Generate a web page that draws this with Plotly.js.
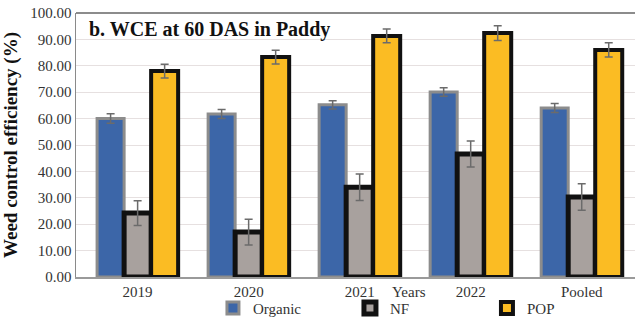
<!DOCTYPE html>
<html>
<head>
<meta charset="utf-8">
<script src="https://cdn.plot.ly/plotly-3.0.1.min.js"></script>
<style>html,body{margin:0;padding:0;background:#fff;}#chart{width:635px;height:318px;}</style>
</head>
<body>
<div id="chart"></div>
<script>
const categories = ["2019", "2020", "2021", "2022", "Pooled"];
const organic = [60.0, 61.7, 65.2, 70.1, 64.0];
const organicErr = [1.8, 1.7, 1.6, 1.6, 1.7];
const nf = [24.2, 17.0, 34.0, 46.6, 30.3];
const nfErr = [4.7, 4.9, 5.0, 4.9, 5.0];
const pop = [78.0, 83.3, 91.3, 92.4, 86.0];
const popErr = [2.6, 2.6, 2.6, 2.8, 2.7];
const yTicks = [0, 10, 20, 30, 40, 50, 60, 70, 80, 90, 100];

const serif = "Liberation Serif, Times New Roman, serif";
const errStyle = {type: "data", visible: true, color: "#6b6b6b", thickness: 1.5, width: 4};

const traces = [
  {type: "bar", name: "Organic", x: categories, y: organic,
   error_y: Object.assign({array: organicErr}, errStyle),
   marker: {color: "#3c66a8", line: {color: "#8c8c8c", width: 3}}},
  {type: "bar", name: "NF", x: categories, y: nf,
   error_y: Object.assign({array: nfErr}, errStyle),
   marker: {color: "#a8a19e", line: {color: "#111111", width: 5}}},
  {type: "bar", name: "POP", x: categories, y: pop,
   error_y: Object.assign({array: popErr}, errStyle),
   marker: {color: "#fbbc23", line: {color: "#111111", width: 4}}}
];

const layout = {
  width: 635, height: 318,
  margin: {l: 76, r: 0, t: 13, b: 41, autoexpand: false},
  paper_bgcolor: "#ffffff", plot_bgcolor: "#ffffff",
  barmode: "group", bargap: 0.27, bargroupgap: 0,
  font: {family: serif, color: "#333333"},
  showlegend: true,
  legend: {orientation: "h", x: 0.245, xanchor: "left", y: -0.056, yanchor: "top",
           font: {family: serif, size: 15, color: "#333333"},
           entrywidth: 92, entrywidthmode: "pixels", bgcolor: "rgba(0,0,0,0)",
           tracegroupgap: 0},
  xaxis: {type: "category", range: [-0.555, 4.48], showgrid: false,
          showline: true, linecolor: "#9a9a9a", linewidth: 1.5,
          ticks: "", tickfont: {family: serif, size: 15, color: "#333333"}},
  yaxis: {range: [0, 100], tickvals: yTicks, tickformat: ".2f",
          showgrid: true, gridcolor: "#e6e0e0", gridwidth: 1,
          showline: true, linecolor: "#8a8a8a", linewidth: 1.5,
          zeroline: false, ticks: "", ticklen: 0,
          tickfont: {family: serif, size: 15, color: "#333333"},
          title: {text: "<b>Weed control efficiency (%)</b>", standoff: 10,
                  font: {family: serif, size: 19, color: "#111111"}}},
  shapes: [
    {type: "line", xref: "paper", yref: "paper", x0: 0, x1: 1, y0: 1, y1: 1,
     line: {color: "#666666", width: 1.5}}
  ],
  annotations: [
    {text: "<b>b. WCE at 60 DAS in Paddy</b>", xref: "paper", yref: "paper",
     x: 0.02, y: 0.99, xanchor: "left", yanchor: "top", showarrow: false,
     font: {family: serif, size: 20, color: "#111111"}},
    {text: "Years", xref: "paper", yref: "paper", x: 0.595, y: -0.02,
     xanchor: "center", yanchor: "top", showarrow: false,
     font: {family: serif, size: 15, color: "#333333"}}
  ]
};

Plotly.newPlot("chart", traces, layout, {displayModeBar: false, staticPlot: true});
</script>
</body>
</html>
